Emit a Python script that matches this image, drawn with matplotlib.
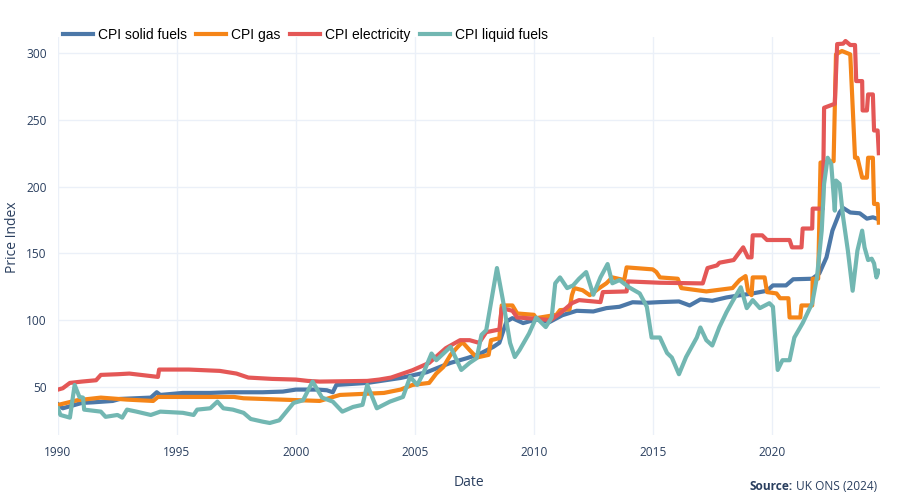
import matplotlib
matplotlib.use('Agg')
import matplotlib.pyplot as plt

# series (decimal year, index value)
solid_date = [1990.0, 1990.2, 1991.0, 1991.5, 1992.3, 1992.6, 1993.9, 1994.15, 1994.3, 1995.25, 1996.4, 1997.2,
              1998.6, 1999.45, 2000.0, 2000.9, 2001.3, 2001.55, 2001.7, 2003.0, 2004.4, 2005.5, 2006.2, 2006.5,
              2007.2, 2007.7, 2008.3, 2008.55, 2008.85, 2009.1, 2009.55, 2010.1, 2010.65, 2011.2, 2011.8, 2012.5,
              2013.05, 2013.6, 2014.15, 2014.75, 2015.3, 2016.1, 2016.55, 2017.0, 2017.5, 2018.1, 2018.65, 2019.2,
              2019.8, 2020.05, 2020.6, 2020.9, 2021.7, 2022.0, 2022.3, 2022.55, 2022.85, 2023.0, 2023.3, 2023.7,
              2024.0, 2024.25, 2024.5]
solid_val = [37, 34, 38, 38.5, 39.5, 41, 42, 46, 44, 45.5, 45.5, 46,
             46, 46.5, 48, 48, 47.5, 46, 51.5, 53, 56.7, 61, 66, 68,
             71.6, 74.5, 80, 83, 99, 101.5, 97.8, 100.5, 98.5, 103.7, 107, 106.5,
             109, 110, 113.4, 113, 113.5, 114, 111, 115.5, 114.5, 117, 118.6, 120,
             122, 126, 126, 130.6, 131, 135, 147, 167, 180.6, 184, 180.6, 180,
             176, 177, 175.5]

gas_date = [1990.0, 1990.8, 1991.8, 1992.9, 1994.0, 1994.2, 1997.4, 1997.8, 2000.2, 2001.0, 2001.85, 2003.7,
            2004.4, 2004.9, 2005.6, 2005.9, 2006.2, 2006.5, 2006.8, 2007.0, 2007.3, 2007.6, 2008.1, 2008.2,
            2008.55, 2008.65, 2009.1, 2009.3, 2010.0, 2010.1, 2010.95, 2011.1, 2011.5, 2011.6, 2011.7, 2012.05,
            2012.35, 2012.8, 2013.05, 2013.3, 2013.8, 2013.9, 2015.0, 2015.15, 2015.3, 2016.05, 2016.2, 2017.25,
            2018.35, 2018.65, 2018.9, 2019.0, 2019.15, 2019.2, 2019.7, 2019.8, 2020.2, 2020.35, 2020.7, 2020.75,
            2021.2, 2021.25, 2021.7, 2021.72, 2021.95, 2022.05, 2022.6, 2022.7, 2022.95, 2023.3, 2023.5, 2023.6,
            2023.8, 2024.0, 2024.05, 2024.25, 2024.3, 2024.45, 2024.5]
gas_val = [36.5, 40, 42, 40.5, 39.5, 42.5, 42.5, 41.5, 40, 39.5, 44, 45.5,
           48, 51.5, 53, 60, 65, 74, 80, 83.5, 77.6, 72, 74, 85,
           86.5, 111, 111, 105, 104, 101.5, 104, 107.5, 108, 118.7, 124, 122.4,
           118.7, 124.6, 127.6, 132, 130, 139.5, 138, 136, 132, 131, 124, 121.5,
           124, 130, 133, 122, 118.7, 132, 132, 121, 120, 116.4, 116.4, 102,
           102, 111, 111, 131, 131, 218, 219, 299, 301.5, 299, 221.6, 221.6,
           206.7, 206.7, 221.6, 221.6, 187, 187, 173]

elec_date = [1990.0, 1990.2, 1990.5, 1991.0, 1991.6, 1991.8, 1992.5, 1993.0, 1994.2, 1994.25, 1995.5, 1996.8,
             1997.5, 1998.0, 1999.0, 2000.0, 2000.5, 2001.0, 2003.0, 2003.5, 2004.0, 2004.9, 2005.6, 2006.3,
             2006.9, 2007.3, 2007.7, 2008.0, 2008.55, 2008.65, 2009.1, 2009.3, 2010.1, 2010.7, 2011.1, 2011.6,
             2011.9, 2012.8, 2012.9, 2013.9, 2013.95, 2015.3, 2017.1, 2017.3, 2017.7, 2017.8, 2018.4, 2018.65,
             2018.8, 2019.0, 2019.15, 2019.2, 2019.6, 2019.8, 2020.75, 2020.85, 2021.25, 2021.3, 2021.7, 2021.72,
             2022.15, 2022.2, 2022.65, 2022.75, 2023.0, 2023.1, 2023.3, 2023.5, 2023.55, 2023.8, 2023.82, 2024.0,
             2024.05, 2024.25, 2024.3, 2024.45, 2024.5]
elec_val = [48, 49, 53, 54, 55, 59, 59.5, 60, 57.5, 63, 63, 62,
            60, 57, 56, 55.5, 54.5, 54, 54.5, 55.5, 57, 62.5, 68, 79,
            85, 85, 83, 91, 93, 109, 107, 102, 101, 100, 105, 112.7,
            115, 113.5, 121, 121.5, 129, 128, 127.5, 139, 141, 143, 145, 151,
            154.5, 147, 147, 163.5, 163.5, 160, 160, 154.5, 154.5, 168.6, 168.6, 183.5,
            183.5, 259, 262, 306.7, 307, 309, 306, 306, 279, 279, 257, 257,
            269, 269, 242, 242, 225]

liq_date = [1990.0, 1990.1, 1990.5, 1990.7, 1990.9, 1991.05, 1991.1, 1991.8, 1992.0, 1992.5, 1992.7, 1992.9,
            1993.3, 1993.9, 1994.3, 1995.25, 1995.7, 1995.85, 1996.4, 1996.7, 1996.95, 1997.35, 1997.8, 1998.1,
            1998.6, 1998.9, 1999.3, 1999.9, 2000.3, 2000.7, 2001.1, 2001.55, 2001.95, 2002.4, 2002.8, 2003.0,
            2003.4, 2003.95, 2004.5, 2004.8, 2005.1, 2005.35, 2005.7, 2005.9, 2006.5, 2006.95, 2007.3, 2007.6,
            2007.8, 2008.0, 2008.45, 2008.7, 2009.0, 2009.2, 2009.4, 2009.8, 2010.1, 2010.5, 2010.75, 2010.9,
            2011.1, 2011.4, 2011.65, 2011.9, 2012.2, 2012.5, 2012.8, 2013.1, 2013.3, 2013.6, 2014.0, 2014.45,
            2014.75, 2014.95, 2015.3, 2015.6, 2015.8, 2016.1, 2016.4, 2016.85, 2017.0, 2017.25, 2017.5, 2017.8,
            2018.1, 2018.35, 2018.7, 2018.95, 2019.2, 2019.5, 2019.9, 2020.05, 2020.25, 2020.45, 2020.75, 2020.95,
            2021.3, 2021.7, 2021.9, 2022.1, 2022.2, 2022.35, 2022.5, 2022.65, 2022.7, 2022.85, 2023.0, 2023.2,
            2023.4, 2023.6, 2023.8, 2023.9, 2024.05, 2024.2, 2024.3, 2024.4, 2024.5]
liq_val = [34, 29, 27, 51.5, 42.5, 42, 33, 31.5, 27.6, 29, 27, 33,
           31.5, 29, 31.5, 30.6, 29, 33, 34, 39, 34, 33, 30.6, 26,
           24, 23, 25, 38, 40, 54, 42, 39, 31.5, 35, 36.6, 51.5,
           34, 39, 42.5, 57.5, 51.5, 60, 75, 70, 80, 62.7, 68, 71.6,
           89, 92.5, 139, 115, 83, 72.4, 77.6, 90, 102, 94.8, 102, 127.6,
           132, 124, 126, 131, 136, 119, 132, 142, 127.6, 130, 124.6, 120,
           110, 87, 87, 75.4, 72, 59.5, 72.4, 87, 94.5, 85, 81, 94.8,
           106, 114, 124.6, 109, 115, 109, 112.7, 110, 62.7, 70, 70, 87,
           97.8, 112.7, 132, 167, 202, 221.6, 217, 182, 204.5, 202, 177, 152,
           122, 152, 167, 154.5, 145, 146, 142.5, 132, 137]

names = ['CPI solid fuels', 'CPI gas', 'CPI electricity', 'CPI liquid fuels']
colors = ['#4C78A8', '#F58518', '#E45756', '#72B7B2']
year_ticks = [1990, 1995, 2000, 2005, 2010, 2015, 2020]
y_ticks = [50, 100, 150, 200, 250, 300]

TXT = '#2a3f5f'
GRID = '#EBF0F8'

fig = plt.figure(figsize=(9, 5), dpi=100)
ax = fig.add_axes([58/900, 1-435/500, 822/900, 398/500])

series = [(solid_date, solid_val), (gas_date, gas_val), (elec_date, elec_val), (liq_date, liq_val)]
for (d, v), name, c in zip(series, names, colors):
    ax.plot(d, v, color=c, lw=3, label=name, solid_joinstyle='round')

ax.set_xlim(1990.0, 2024.55)
ax.set_ylim(14, 312)
ax.set_xticks(year_ticks)
ax.set_xticklabels([str(y) for y in year_ticks])
ax.set_yticks(y_ticks)
ax.grid(True, color=GRID, lw=1)
ax.set_axisbelow(True)
for s in ax.spines.values():
    s.set_visible(False)
ax.tick_params(length=0, colors=TXT, labelsize=8.6, pad=8)
for lab in ax.get_xticklabels() + ax.get_yticklabels():
    lab.set_fontfamily('Open Sans')

fig.text(469/900, 1-482/500, 'Date', ha='center', va='center', color=TXT, fontsize=10, family='Open Sans')
fig.text(13/900, 1-237/500, 'Price Index', ha='center', va='center', rotation=90, color=TXT,
         fontsize=10, family='Open Sans')

fig.legend(loc='center left', bbox_to_anchor=(63/900, 1-35/500), ncol=4, frameon=False,
           prop={'family': 'Liberation Sans', 'size': 10}, handlelength=2.15, handletextpad=0.35,
           columnspacing=0.7, borderaxespad=0, borderpad=0)

# source note, bold label + normal text, right aligned
r = fig.canvas.get_renderer()
t2 = fig.text(877/900, 1-487/500, 'UK ONS (2024)', ha='right', va='center', color=TXT, fontsize=8.6,
              family='Open Sans')
bb = t2.get_window_extent(renderer=r)
fig.text(bb.x0/900 - 3/900, 1-487/500, 'Source:', ha='right', va='center', color=TXT, fontsize=8.6,
         family='Open Sans', weight='bold')

fig.savefig('out.png', dpi=100)
